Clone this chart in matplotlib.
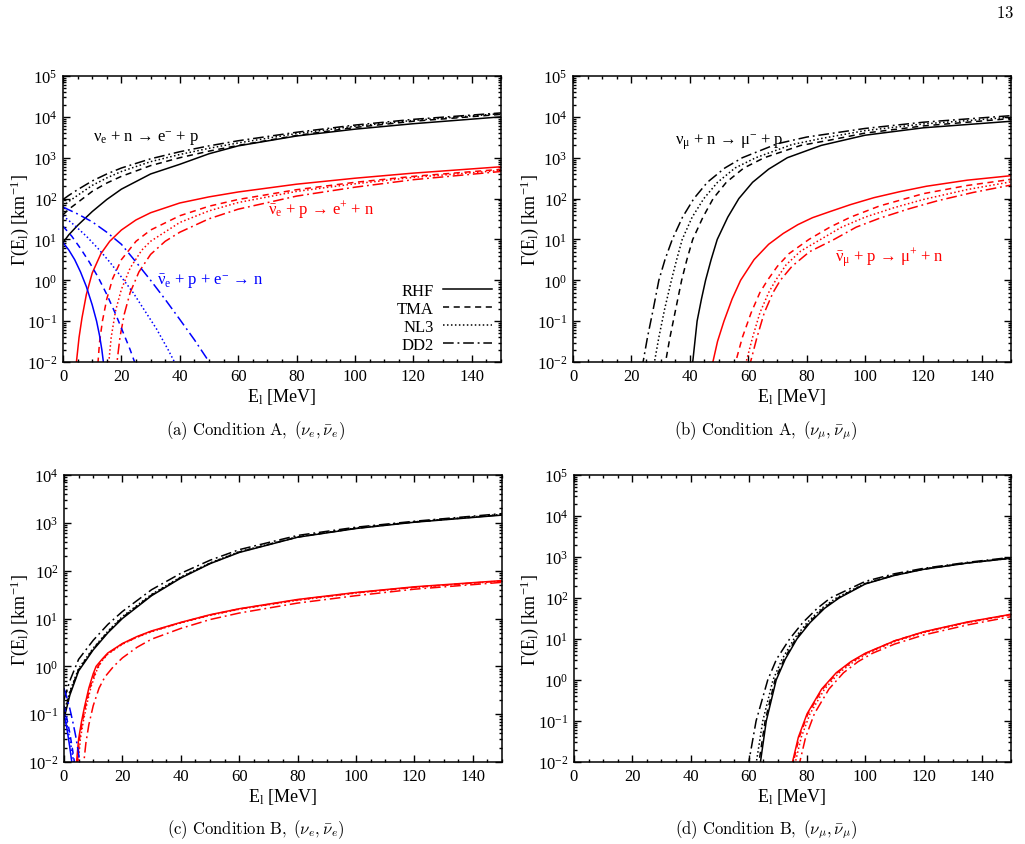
import matplotlib
matplotlib.use("Agg")
import matplotlib.pyplot as plt
from matplotlib.lines import Line2D
from matplotlib.ticker import MultipleLocator, LogLocator, LogFormatterMathtext, NullFormatter

matplotlib.rc("font", family=["Liberation Serif", "DejaVu Serif"], size=12)
matplotlib.rc("mathtext", fontset="custom", rm="Liberation Serif",
              it="Liberation Serif:italic", bf="Liberation Serif:bold")
matplotlib.rc("axes", linewidth=1.1)

MODELS = ["RHF", "TMA", "NL3", "DD2"]

# ---- (a) Condition A, electron flavour ----
a_nue = {  # nu_e + n -> e- + p
    "RHF": ([0, 2, 5, 10, 15, 20, 30, 40, 50, 60, 80, 100, 120, 150],
            [8.4, 13, 22, 48, 95, 170, 400, 690, 1250, 1950, 3400, 5000, 6800, 10000]),
    "TMA": ([0, 2, 5, 10, 15, 20, 30, 40, 50, 60, 80, 100, 120, 150],
            [40, 55, 80, 150, 240, 350, 640, 1000, 1450, 2000, 3500, 5500, 7800, 11500]),
    "NL3": ([0, 2, 5, 10, 15, 20, 30, 40, 50, 60, 80, 100, 120, 150],
            [65, 85, 120, 210, 320, 460, 800, 1200, 1700, 2300, 3900, 5900, 8200, 12000]),
    "DD2": ([0, 2, 5, 10, 15, 20, 30, 40, 50, 60, 80, 100, 120, 150],
            [95, 120, 165, 270, 400, 560, 940, 1400, 1950, 2600, 4200, 6300, 8700, 12500]),
}
a_nuebar = {  # anti-nu_e + p -> e+ + n
    "RHF": ([4.3, 4.6, 5.5, 6.5, 8, 10, 13, 16, 20, 25, 30, 40, 50, 60, 80, 100, 120, 150],
            [0.006, 0.01, 0.04, 0.12, 0.45, 1.5, 4.5, 9, 17, 30, 45, 78, 110, 145, 225, 315, 420, 600]),
    "TMA": ([11.5, 12, 12.5, 13.5, 15, 17, 20, 25, 30, 40, 50, 60, 80, 100, 120, 150],
            [0.005, 0.01, 0.03, 0.1, 0.35, 1.1, 3.2, 9, 17, 38, 65, 95, 165, 250, 350, 520]),
    "NL3": ([15, 15.7, 16.5, 18, 20, 23, 27, 30, 40, 50, 60, 80, 100, 120, 150],
            [0.005, 0.01, 0.04, 0.18, 0.6, 2, 5.5, 9, 26, 50, 80, 150, 230, 330, 490]),
    "DD2": ([18, 18.5, 19.5, 21, 23, 26, 30, 35, 40, 50, 60, 80, 100, 120, 150],
            [0.005, 0.01, 0.04, 0.15, 0.5, 1.6, 4.3, 9, 15, 32, 55, 115, 190, 290, 460]),
}
a_capture = {  # anti-nu_e + p + e- -> n
    "RHF": ([0, 2, 4, 6, 8, 10, 11.5, 12.5, 13.3, 14],
            [8.4, 5.5, 3.2, 1.6, 0.7, 0.25, 0.1, 0.045, 0.02, 0.008]),
    "TMA": ([0, 3, 6, 9, 12, 15, 18, 21, 23, 25],
            [21, 12, 6, 2.8, 1.2, 0.45, 0.15, 0.045, 0.02, 0.008]),
    "NL3": ([0, 4, 8, 12, 16, 20, 24, 28, 32, 36, 38.5],
            [38, 22, 12, 6, 2.8, 1.2, 0.5, 0.18, 0.065, 0.02, 0.009]),
    "DD2": ([0, 5, 10, 15, 20, 25, 30, 35, 40, 45, 50.5],
            [62, 42, 27, 15, 7.6, 2.8, 1.0, 0.34, 0.11, 0.035, 0.009]),
}

# ---- (b) Condition A, muon flavour ----
b_numu = {  # nu_mu + n -> mu- + p
    "RHF": ([40.6, 41, 42.5, 44, 45.4, 47.3, 49.4, 53, 56.8, 61.5, 67, 73.4, 85, 100, 120, 150],
            [0.007, 0.01, 0.1, 0.35, 1, 3.2, 10, 35, 100, 250, 525, 1000, 2000, 3550, 5400, 7800]),
    "TMA": ([31.2, 31.7, 33.2, 35.2, 37.2, 39, 41, 44.5, 48, 52.5, 58.5, 65.5, 78, 88, 100, 120, 150],
            [0.007, 0.01, 0.04, 0.2, 1, 3.2, 10, 35, 100, 250, 560, 1000, 2000, 2700, 4000, 6000, 9100]),
    "NL3": ([27.4, 27.9, 29.4, 31.4, 33.7, 35.5, 37.4, 40.8, 44.8, 49.5, 55.5, 62.6, 75, 85, 100, 120, 150],
            [0.007, 0.01, 0.04, 0.2, 1, 3.2, 10, 35, 100, 250, 560, 1000, 2100, 2950, 4600, 6700, 9800]),
    "DD2": ([23.5, 24, 25.5, 27.5, 29.4, 31.5, 34, 37.5, 41.4, 46, 52, 58, 70, 80, 100, 120, 150],
            [0.007, 0.01, 0.04, 0.2, 1, 3.2, 10, 35, 100, 250, 560, 1000, 2200, 3200, 5200, 7400, 10700]),
}
b_numubar = {  # anti-nu_mu + p -> mu+ + n
    "RHF": ([47.4, 47.9, 49.5, 51.7, 54.5, 57.4, 62, 67, 72, 77, 82, 88, 95, 103, 112, 121, 135, 150],
            [0.007, 0.01, 0.032, 0.1, 0.35, 1, 3.2, 7.6, 14, 23, 34, 48, 71, 105, 148, 200, 282, 363]),
    "TMA": ([55.2, 55.7, 58, 61, 64, 66.6, 70, 74, 80.8, 88, 95, 105, 120, 135, 150],
            [0.007, 0.01, 0.04, 0.16, 0.5, 1, 2.2, 4.5, 10, 20, 35, 66, 132, 209, 295]),
    "NL3": ([58.8, 59.3, 61.5, 64, 67, 69.4, 73, 78, 84.8, 92, 100, 110, 120, 135, 150],
            [0.007, 0.01, 0.04, 0.16, 0.5, 1, 2.4, 5.2, 10, 20, 35, 60, 95, 166, 257]),
    "DD2": ([60.3, 60.8, 63, 65.5, 68.5, 71, 75, 81, 89.4, 97, 105, 115, 125, 137, 150],
            [0.007, 0.01, 0.04, 0.16, 0.5, 1, 2.2, 5, 10, 20, 33, 56, 89, 141, 214]),
}

# ---- (c) Condition B, electron flavour ----
c_nue = {
    "RHF": ([0, 2, 5, 10, 15, 20, 30, 40, 50, 60, 80, 100, 120, 150],
            [0.08, 0.25, 0.8, 2.2, 5, 10, 30, 70, 140, 240, 500, 760, 1030, 1450]),
    "TMA": ([0, 2, 5, 10, 15, 20, 30, 40, 50, 60, 80, 100, 120, 150],
            [0.1, 0.28, 0.85, 2.3, 5.2, 10.5, 31, 72, 142, 245, 505, 770, 1040, 1480]),
    "NL3": ([0, 2, 5, 10, 15, 20, 30, 40, 50, 60, 80, 100, 120, 150],
            [0.11, 0.3, 0.9, 2.4, 5.4, 11, 32, 74, 145, 250, 510, 780, 1050, 1500]),
    "DD2": ([0, 2, 5, 10, 15, 20, 30, 40, 50, 60, 80, 100, 120, 150],
            [0.2, 0.5, 1.4, 3.5, 7.5, 14, 40, 88, 165, 275, 545, 810, 1080, 1560]),
}
c_nuebar = {
    "RHF": ([4.0, 4.3, 5, 6, 7, 8.5, 10, 11, 13, 15, 20, 25, 30, 40, 50, 60, 80, 100, 120, 150],
            [0.006, 0.01, 0.03, 0.07, 0.14, 0.35, 0.7, 1.0, 1.4, 1.9, 3.0, 4.2, 5.5, 8.3, 12, 16, 25, 35, 46, 62]),
    "TMA": ([4.3, 4.6, 5.3, 6.3, 7.5, 9, 11, 13, 15, 20, 25, 30, 40, 50, 60, 80, 100, 120, 150],
            [0.006, 0.01, 0.03, 0.07, 0.16, 0.38, 0.85, 1.35, 1.85, 2.95, 4.1, 5.4, 8.2, 11.8, 15.8, 24.5, 34.5, 45, 61]),
    "NL3": ([4.6, 4.9, 5.6, 6.6, 7.8, 9.3, 11.3, 13, 15, 20, 25, 30, 40, 50, 60, 80, 100, 120, 150],
            [0.006, 0.01, 0.03, 0.07, 0.16, 0.38, 0.85, 1.3, 1.8, 2.9, 4.05, 5.3, 8.1, 11.6, 15.6, 24, 34, 44.5, 60.5]),
    "DD2": ([6.4, 6.8, 7.5, 8.5, 10, 12, 14, 17, 20, 25, 30, 40, 50, 60, 80, 100, 120, 150],
            [0.006, 0.01, 0.025, 0.06, 0.15, 0.35, 0.6, 1.0, 1.5, 2.5, 3.7, 6.2, 9.5, 13, 21, 30, 41, 57]),
}
c_capture = {
    "RHF": ([0, 1, 2, 3], [0.1, 0.05, 0.02, 0.007]),
    "TMA": ([0, 1, 2, 3, 3.8], [0.15, 0.08, 0.04, 0.017, 0.008]),
    "NL3": ([0, 1, 2, 3, 3.5], [0.12, 0.06, 0.03, 0.013, 0.008]),
    "DD2": ([0, 1, 2, 3, 4, 5, 5.5], [0.35, 0.22, 0.13, 0.07, 0.035, 0.015, 0.008]),
}

# ---- (d) Condition B, muon flavour ----
d_numu = {
    "RHF": ([63.6, 64, 66, 69.4, 72.5, 76.5, 81, 86, 91, 100, 110, 120, 135, 150],
            [0.007, 0.01, 0.1, 1, 3.2, 10, 25, 56, 100, 220, 355, 500, 710, 930]),
    "TMA": ([63.1, 63.5, 65.6, 69, 72.1, 76.1, 80.6, 85.6, 90.6, 100, 110, 120, 135, 150],
            [0.007, 0.01, 0.1, 1, 3.2, 10, 25, 56, 100, 225, 360, 505, 715, 935]),
    "NL3": ([62.2, 62.6, 64.8, 68.3, 71.4, 75.5, 80, 85, 90, 100, 110, 120, 135, 150],
            [0.007, 0.01, 0.1, 1, 3.2, 10, 25, 56, 100, 230, 365, 510, 720, 940]),
    "DD2": ([59.6, 60, 62.5, 66.5, 69.5, 74, 78.5, 83.5, 88, 100, 110, 120, 135, 150],
            [0.007, 0.01, 0.1, 1, 3.2, 10, 25, 56, 100, 255, 390, 530, 740, 980]),
}
d_numubar = {
    "RHF": ([74.5, 75, 77, 80, 85, 90, 95, 100, 110, 120, 135, 150],
            [0.007, 0.01, 0.04, 0.15, 0.6, 1.5, 2.8, 4.5, 9, 15, 26, 40]),
    "TMA": ([74.8, 75.3, 77.3, 80.3, 85.3, 90.3, 95.3, 100.3, 110, 120, 135, 150],
            [0.007, 0.01, 0.04, 0.15, 0.6, 1.5, 2.8, 4.5, 9, 14.8, 25.5, 39.5]),
    "NL3": ([75.5, 76, 78, 81, 86, 91, 96, 101, 110, 120, 135, 150],
            [0.007, 0.01, 0.04, 0.15, 0.6, 1.5, 2.8, 4.5, 8.6, 14.3, 25, 39]),
    "DD2": ([77, 77.5, 79.5, 82.5, 87.5, 92.5, 97.5, 102.5, 110, 120, 135, 150],
            [0.007, 0.01, 0.04, 0.15, 0.6, 1.5, 2.8, 4.5, 7.5, 12.5, 22, 35]),
}

LINESTYLES = {"RHF": "-", "TMA": (0, (4, 3)), "NL3": (0, (1, 1.6)),
              "DD2": (0, (7, 2.5, 1.2, 2.5))}

W, H = 1025, 845
fig = plt.figure(figsize=(W / 100, H / 100), dpi=100)


def add_axes(left, top, right, bottom):
    return fig.add_axes([left / W, 1 - bottom / H, (right - left) / W, (bottom - top) / H])


def ptext(x, y, s, **kw):
    fig.text(x / W, 1 - y / H, s, ha="center", va="center", **kw)


def draw(ax, curves, color):
    for model in MODELS:
        E, G = curves[model]
        ax.plot(E, G, color=color, linestyle=LINESTYLES[model], lw=1.1)


def style(ax, ymax):
    ax.set_xlim(0, 150)
    ax.set_yscale("log")
    ax.set_ylim(1e-2, ymax)
    ax.xaxis.set_major_locator(MultipleLocator(20))
    ax.xaxis.set_minor_locator(MultipleLocator(5))
    ax.yaxis.set_major_locator(LogLocator(base=10, numticks=20))
    ax.yaxis.set_minor_locator(LogLocator(base=10, subs=range(2, 10), numticks=20))
    ax.yaxis.set_major_formatter(LogFormatterMathtext())
    ax.yaxis.set_minor_formatter(NullFormatter())
    ax.tick_params(which="both", direction="in", top=True, right=True, width=1, labelsize=12)
    ax.tick_params(which="major", length=5, pad=4)
    ax.tick_params(which="minor", length=2.5)


axA = add_axes(63, 77, 501, 363)
axB = add_axes(573, 77, 1011, 363)
axC = add_axes(64, 476, 502, 763)
axD = add_axes(574, 476, 1011, 763)

draw(axA, a_nue, "black")
draw(axA, a_nuebar, "#ff0000")
draw(axA, a_capture, "#0000ff")
draw(axB, b_numu, "black")
draw(axB, b_numubar, "#ff0000")
draw(axC, c_nue, "black")
draw(axC, c_nuebar, "#ff0000")
draw(axC, c_capture, "#0000ff")
draw(axD, d_numu, "black")
draw(axD, d_numubar, "#ff0000")

for ax, ymax in [(axA, 1e5), (axB, 1e5), (axC, 1e4), (axD, 1e5)]:
    style(ax, ymax)

# reaction labels
axA.text(0.068, 0.787, r"$\mathrm{\nu_e}$ + n → e$^{-}$ + p", transform=axA.transAxes,
         fontsize=12, va="center", color="black")
axA.text(0.468, 0.535, r"$\bar{\mathrm{\nu}}_\mathrm{e}$ + p → e$^{+}$ + n", transform=axA.transAxes,
         fontsize=12, va="center", color="#ff0000")
axA.text(0.215, 0.283, r"$\bar{\mathrm{\nu}}_\mathrm{e}$ + p + e$^{-}$ → n", transform=axA.transAxes,
         fontsize=12, va="center", color="#0000ff")
axB.text(0.233, 0.773, r"$\mathrm{\nu_\mu}$ + n → $\mathrm{\mu}^{-}$ + p", transform=axB.transAxes,
         fontsize=12, va="center", color="black")
axB.text(0.598, 0.367, r"$\bar{\mathrm{\nu}}_\mathrm{\mu}$ + p → $\mathrm{\mu}^{+}$ + n", transform=axB.transAxes,
         fontsize=12, va="center", color="#ff0000")

handles = [Line2D([], [], color="black", lw=1.1, linestyle=LINESTYLES[m]) for m in MODELS]
axA.legend(handles, MODELS, loc="lower right", bbox_to_anchor=(0.979, 0.031),
           markerfirst=False, frameon=False, handlelength=2.9, labelspacing=0.12,
           handletextpad=0.6, borderpad=0, borderaxespad=0, fontsize=12)

ylab = "Γ(E$_\\mathrm{l}$) [km$^{-1}$]"
xlab = "E$_\\mathrm{l}$ [MeV]"
for x, y in [(20, 220), (530, 220), (20, 620), (530, 620)]:
    ptext(x, y, ylab, rotation=90, fontsize=13)
for x, y in [(282, 397), (792, 397), (283, 797), (792, 797)]:
    ptext(x, y, xlab, fontsize=13)

captions = [r"$\mathrm{(a)\ Condition\ A,}\ (\nu_e,\bar{\nu}_e)$",
            r"$\mathrm{(b)\ Condition\ A,}\ (\nu_\mu,\bar{\nu}_\mu)$",
            r"$\mathrm{(c)\ Condition\ B,}\ (\nu_e,\bar{\nu}_e)$",
            r"$\mathrm{(d)\ Condition\ B,}\ (\nu_\mu,\bar{\nu}_\mu)$"]
for (x, y), cap in zip([(256, 431), (766, 431), (256, 830), (766, 830)], captions):
    ptext(x, y, cap, fontsize=12, math_fontfamily="cm")
ptext(1005, 14, r"$\mathrm{13}$", fontsize=12, math_fontfamily="cm")

fig.savefig("out.png", dpi=100)
